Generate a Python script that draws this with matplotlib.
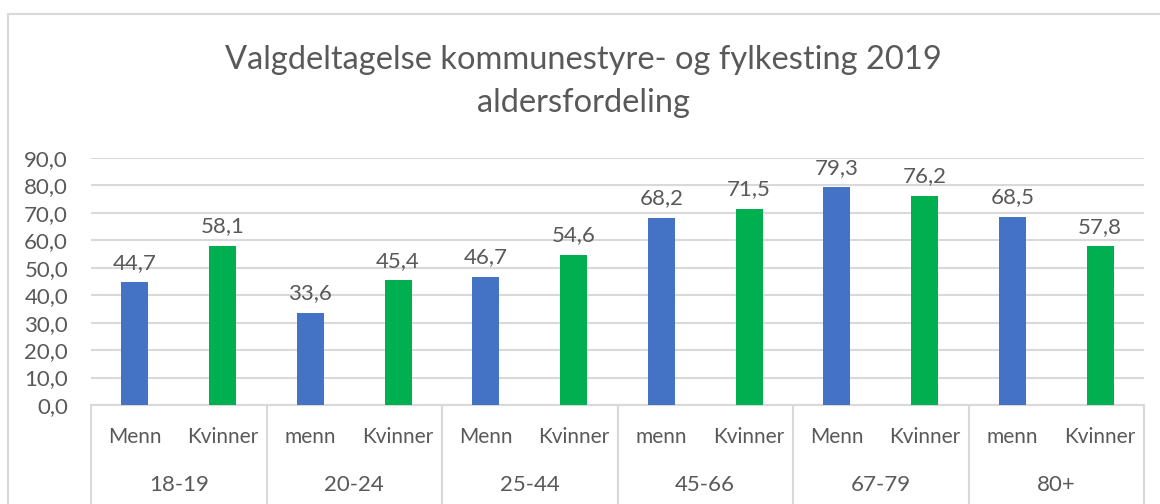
import matplotlib
matplotlib.use("Agg")
from matplotlib import pyplot as plt
from matplotlib.patches import Rectangle

# data
groups = ['18-19', '20-24', '25-44', '45-66', '67-79', '80+']
sub_labels = ['Menn', 'Kvinner', 'menn', 'Kvinner', 'Menn', 'Kvinner',
              'menn', 'Kvinner', 'Menn', 'Kvinner', 'menn', 'Kvinner']
menn = [44.7, 33.6, 46.7, 68.2, 79.3, 68.5]
kvinner = [58.1, 45.4, 54.6, 71.5, 76.2, 57.8]
yticks = [0, 10, 20, 30, 40, 50, 60, 70, 80, 90]

BLUE = '#4472C4'
GREEN = '#00B050'
GRID = '#D9D9D9'
TXT = '#595959'

plt.rcParams['font.family'] = ['Lato', 'DejaVu Sans']

W, H = 1160, 504
fig = plt.figure(figsize=(W / 100, H / 100), dpi=100)
ax = fig.add_axes([91 / W, 1 - 405 / H, (1144 - 91) / W, (405 - 158) / H])

# chart border
fig.patches.append(Rectangle((8 / W, -0.1), 1.2, 1 - 14 / H + 0.1,
                             transform=fig.transFigure, fill=False,
                             edgecolor=GRID, linewidth=1.5))

xm = [2 * i for i in range(len(groups))]
xk = [2 * i + 1 for i in range(len(groups))]
bw = 0.31
ax.bar(xm, menn, width=bw, color=BLUE, zorder=3)
ax.bar(xk, kvinner, width=bw, color=GREEN, zorder=3)

def fmt(v):
    return ('%.1f' % v).replace('.', ',')

for x, v in list(zip(xm, menn)) + list(zip(xk, kvinner)):
    ax.annotate(fmt(v), (x, v), xytext=(0, 7), textcoords='offset points',
                ha='center', va='bottom', fontsize=16, color=TXT)

ax.set_xlim(-0.5, 2 * len(groups) - 0.5)
ax.set_ylim(0, 90)
ax.set_yticks(yticks)
ax.set_yticklabels([fmt(t) for t in yticks], fontsize=16, color=TXT)
ax.tick_params(axis='y', length=0, pad=16.5)
ax.set_xticks([])
for s in ['top', 'right', 'left']:
    ax.spines[s].set_visible(False)
ax.spines['bottom'].set_color(GRID)
ax.spines['bottom'].set_linewidth(1.5)
ax.grid(axis='y', color=GRID, linewidth=1.5, zorder=0)
ax.set_axisbelow(True)

# multi-level category axis
trans = ax.get_xaxis_transform()
for i in range(len(groups) + 1):
    ax.plot([2 * i - 0.5, 2 * i - 0.5], [0, -0.45], transform=trans,
            color=GRID, linewidth=1.5, clip_on=False)
for i, lab in enumerate(sub_labels):
    ax.text(i, -0.13, lab, transform=trans, ha='center', va='center',
            fontsize=15, color=TXT)
for i, g in enumerate(groups):
    ax.text(2 * i + 0.5, -0.325, g, transform=trans, ha='center',
            va='center', fontsize=16, color=TXT)

fig.text(583 / W, 1 - 60 / H, 'Valgdeltagelse kommunestyre- og fylkesting 2019',
         ha='center', va='center', fontsize=23.5, color=TXT)
fig.text(583 / W, 1 - 103 / H, 'aldersfordeling',
         ha='center', va='center', fontsize=23.5, color=TXT)

fig.savefig('out.png', dpi=100)
